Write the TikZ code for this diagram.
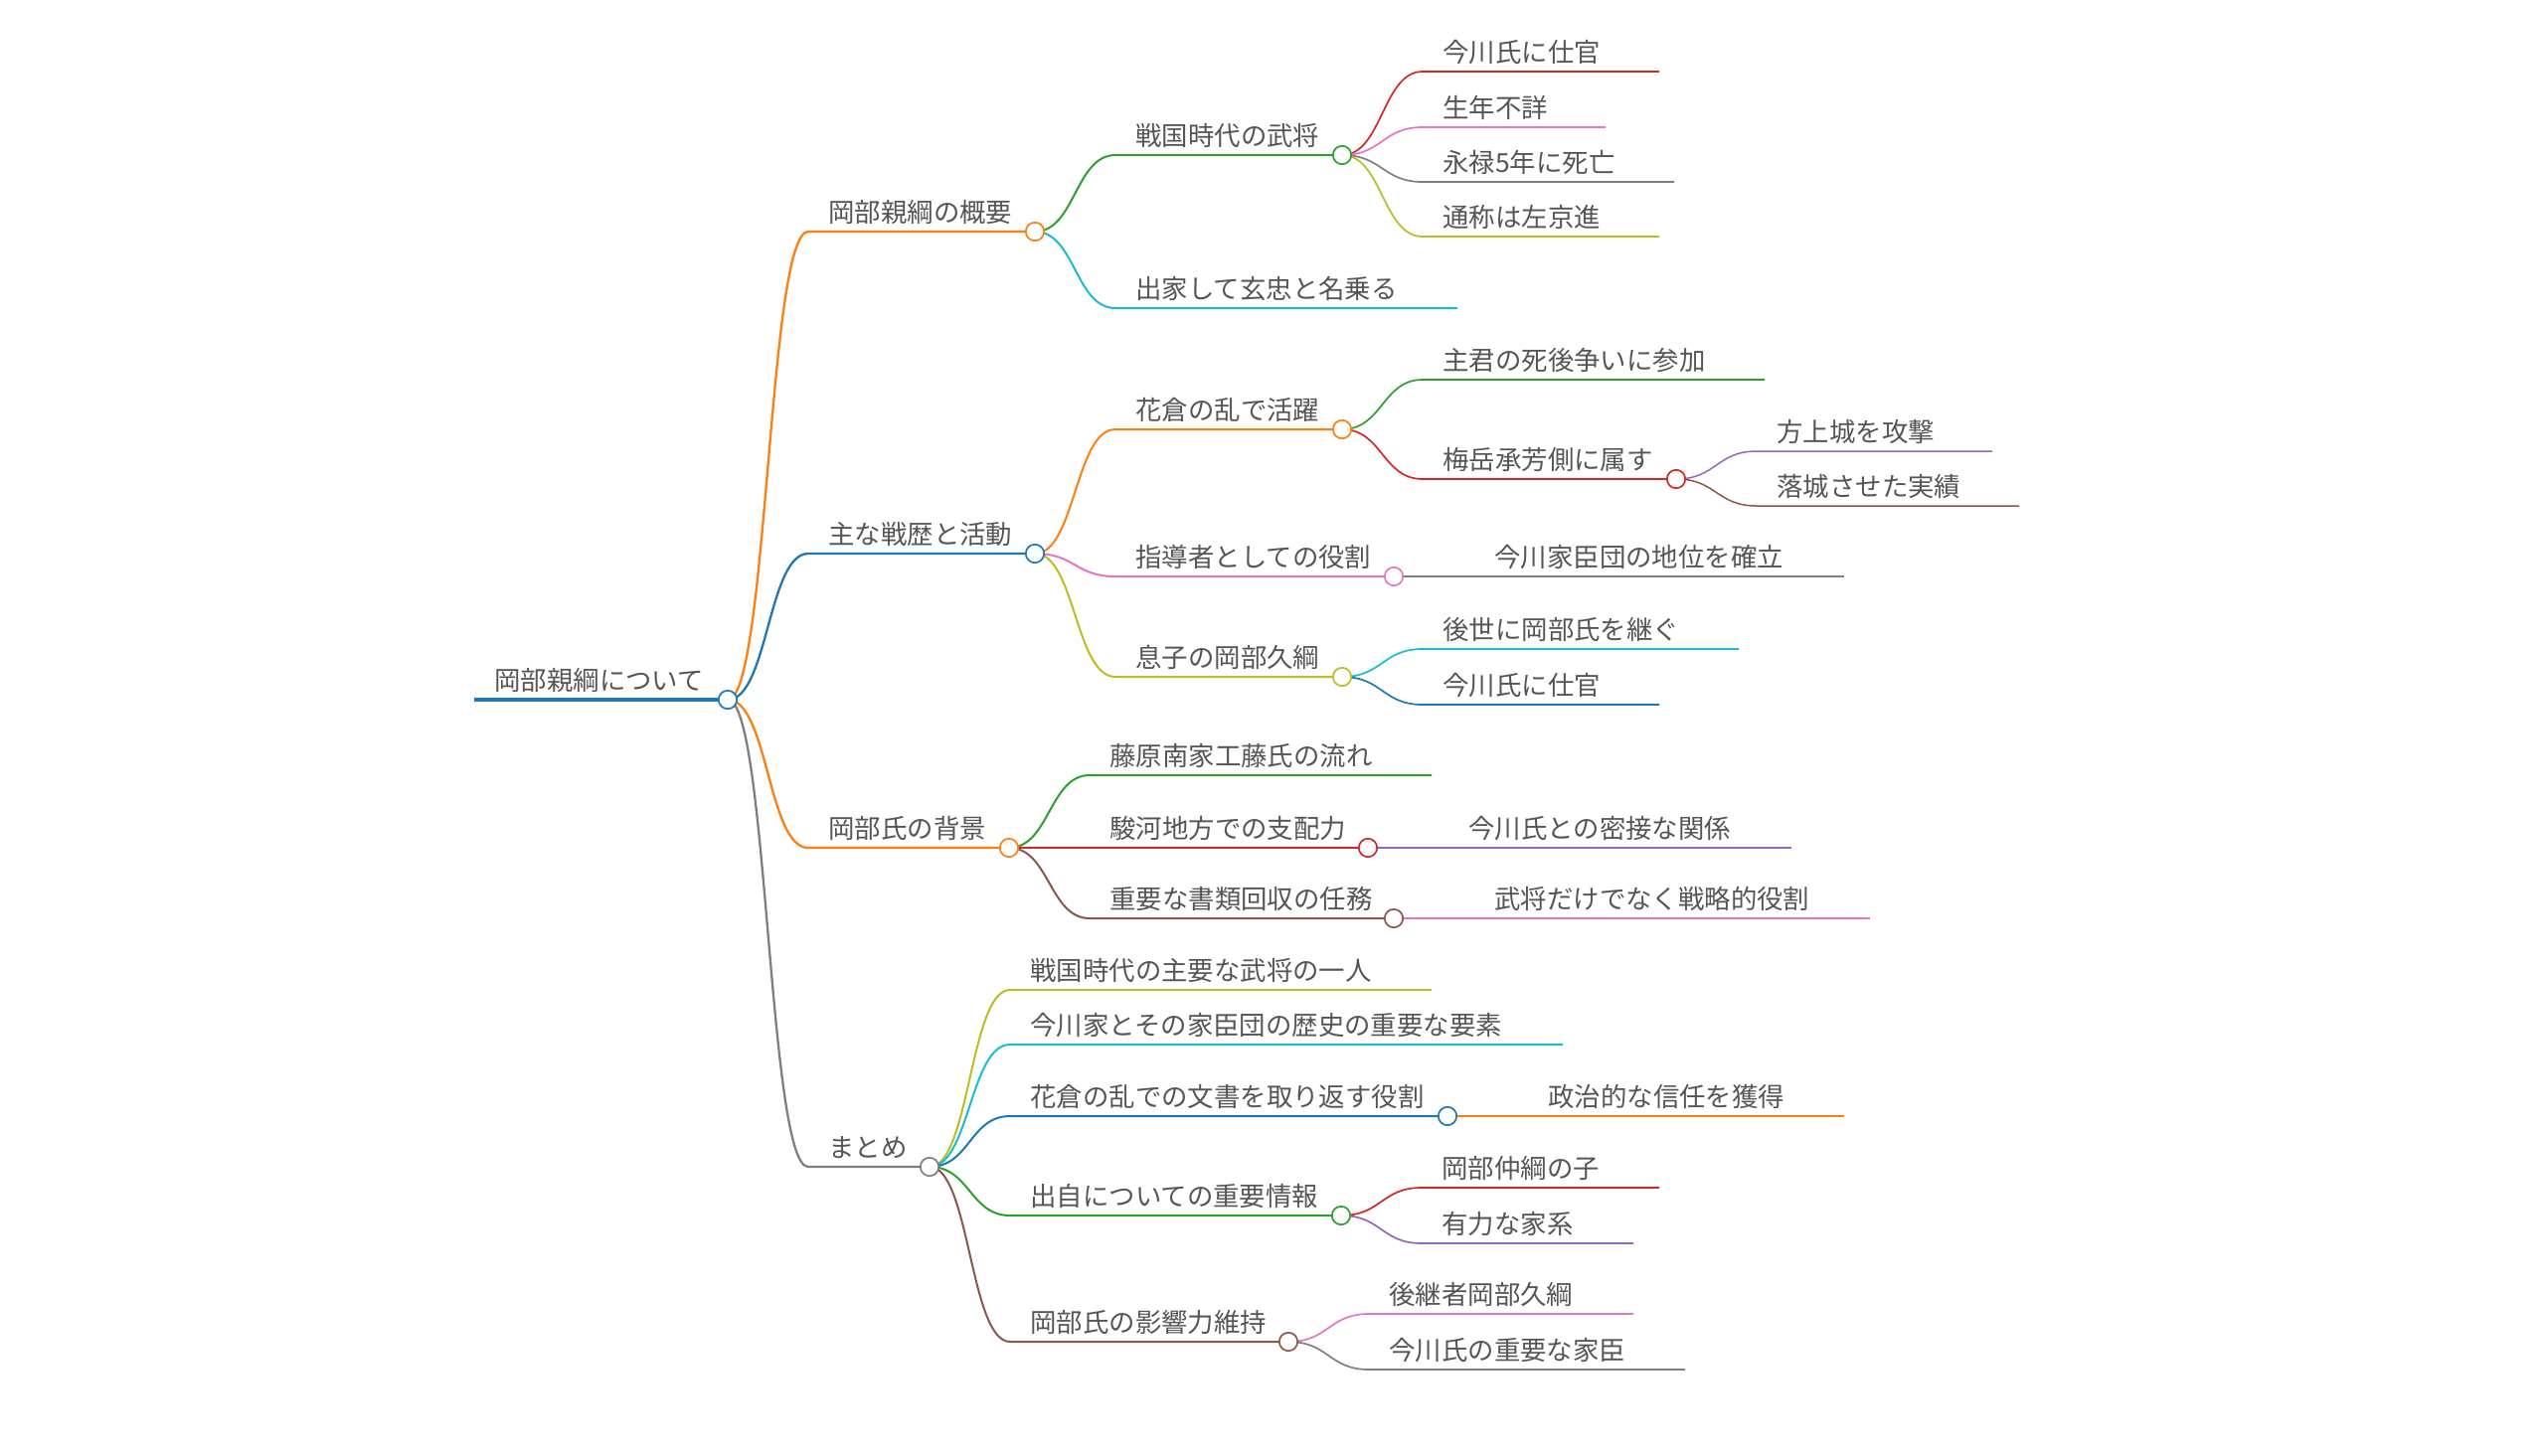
\documentclass[tikz,border=0pt]{standalone}
\usepackage{fontspec}
\setmainfont{Noto Sans CJK JP}
\newfontfamily\jpfont{Noto Sans CJK JP}
\usetikzlibrary{calc}
\pgfdeclarelayer{bg}
\pgfdeclarelayer{paper}
\pgfsetlayers{paper,bg,main}
\definecolor{mmblue}{HTML}{1F77B4}
\definecolor{mmorange}{HTML}{FF7F0E}
\definecolor{mmgreen}{HTML}{2CA02C}
\definecolor{mmred}{HTML}{D62728}
\definecolor{mmpurple}{HTML}{9467BD}
\definecolor{mmbrown}{HTML}{8C564B}
\definecolor{mmpink}{HTML}{E377C2}
\definecolor{mmgrey}{HTML}{7F7F7F}
\definecolor{mmolive}{HTML}{BCBD22}
\definecolor{mmcyan}{HTML}{17BECF}
\definecolor{txtgray}{HTML}{555555}
\tikzset{
  circ/.style={circle, draw=#1, fill=white, line width=0.85pt, minimum size=9.2pt, inner sep=0pt},
  lbl/.style={anchor=base west, inner sep=0pt, text=txtgray, font=\jpfont\fontsize{13.2pt}{15pt}\selectfont},
}
% internal node: id, parent, colour, width, xstart, y, xcircle, text
\newcommand{\mmmid}[8]{%
  \coordinate (#1-s) at (#5,#6);
  \node[circ=#3] (#1) at (#7,#6) {};
  \node[lbl] (#1-t) at (#5+20,#6-10) {#8};
  \begin{pgfonlayer}{bg}
  \draw[#3, line width=#4] (#2.center) .. controls ($(#2.center)+(40.5,0)$) and ($(#1-s)+(-40.5,0)$) .. (#1-s) -- (#1.center);
  \end{pgfonlayer}}
% leaf node: id, parent, colour, width, xstart, y, xend, text
\newcommand{\mmleaf}[8]{%
  \coordinate (#1-s) at (#5,#6);
  \coordinate (#1-e) at (#7,#6);
  \node[lbl] (#1-t) at (#5+20,#6-10) {#8};
  \begin{pgfonlayer}{bg}
  \draw[#3, line width=#4] (#2.center) .. controls ($(#2.center)+(40.5,0)$) and ($(#1-s)+(-40.5,0)$) .. (#1-s) -- (#1-e);
  \end{pgfonlayer}}
\begin{document}
\begin{tikzpicture}[x=0.5pt, y=-0.5pt, line cap=round]
\begin{pgfonlayer}{paper}
\fill[white] (0,0) rectangle (2560,1464);
\end{pgfonlayer}
\useasboundingbox (0,0) rectangle (2560,1464);
% root
\coordinate (R-s) at (477,704);
\node[circ=mmblue] (R) at (732,704) {};
\node[lbl] (R-t) at (497,694) {岡部親綱について};
\begin{pgfonlayer}{bg}
\draw[mmblue, line width=1.65pt] (R-s) -- (R.center);
\end{pgfonlayer}
% level 1
\mmmid{A}{R}{mmorange}{1.15pt}{813}{233}{1041}{岡部親綱の概要}
\mmmid{B}{R}{mmblue}{1.15pt}{813}{557}{1041}{主な戦歴と活動}
\mmmid{C}{R}{mmorange}{1.15pt}{813}{853}{1015}{岡部氏の背景}
\mmmid{D}{R}{mmgrey}{1.15pt}{813}{1174}{935}{まとめ}
% under A
\mmmid{A1}{A}{mmgreen}{1pt}{1122}{156}{1350}{戦国時代の武将}
\mmleaf{A2}{A}{mmcyan}{1pt}{1122}{310}{1466}{出家して玄忠と名乗る}
\mmleaf{A1a}{A1}{mmred}{0.85pt}{1431}{72}{1669}{今川氏に仕官}
\mmleaf{A1b}{A1}{mmpink}{0.85pt}{1431}{128}{1615}{生年不詳}
\mmleaf{A1c}{A1}{mmgrey}{0.85pt}{1431}{183}{1684}{永禄5年に死亡}
\mmleaf{A1d}{A1}{mmolive}{0.85pt}{1431}{238}{1669}{通称は左京進}
% under B
\mmmid{B1}{B}{mmorange}{1pt}{1122}{432}{1350}{花倉の乱で活躍}
\mmmid{B2}{B}{mmpink}{1pt}{1122}{580}{1402}{指導者としての役割}
\mmmid{B3}{B}{mmolive}{1pt}{1122}{681}{1350}{息子の岡部久綱}
\mmleaf{B1a}{B1}{mmgreen}{0.85pt}{1431}{382}{1775}{主君の死後争いに参加}
\mmmid{B1b}{B1}{mmred}{0.85pt}{1431}{482}{1686}{梅岳承芳側に属す}
\mmleaf{B1b1}{B1b}{mmpurple}{0.75pt}{1767}{454}{2004}{方上城を攻撃}
\mmleaf{B1b2}{B1b}{mmbrown}{0.75pt}{1767}{509}{2031}{落城させた実績}
\mmleaf{B2a}{B2}{mmgrey}{0.85pt}{1483}{580}{1855}{今川家臣団の地位を確立}
\mmleaf{B3a}{B3}{mmcyan}{0.85pt}{1431}{653}{1749}{後世に岡部氏を継ぐ}
\mmleaf{B3b}{B3}{mmblue}{0.85pt}{1431}{709}{1669}{今川氏に仕官}
% under C
\mmleaf{C1}{C}{mmgreen}{1pt}{1096}{780}{1440}{藤原南家工藤氏の流れ}
\mmmid{C2}{C}{mmred}{1pt}{1096}{853}{1376}{駿河地方での支配力}
\mmmid{C3}{C}{mmbrown}{1pt}{1096}{924}{1402}{重要な書類回収の任務}
\mmleaf{C2a}{C2}{mmpurple}{0.85pt}{1457}{853}{1802}{今川氏との密接な関係}
\mmleaf{C3a}{C3}{mmpink}{0.85pt}{1483}{924}{1881}{武将だけでなく戦略的役割}
% under D
\mmleaf{D1}{D}{mmolive}{1pt}{1016}{996}{1440}{戦国時代の主要な武将の一人}
\mmleaf{D2}{D}{mmcyan}{1pt}{1016}{1051}{1572}{今川家とその家臣団の歴史の重要な要素}
\mmmid{D3}{D}{mmblue}{1pt}{1016}{1123}{1456}{花倉の乱での文書を取り返す役割}
\mmmid{D4}{D}{mmgreen}{1pt}{1016}{1223}{1349}{出自についての重要情報}
\mmmid{D5}{D}{mmbrown}{1pt}{1016}{1350}{1296}{岡部氏の影響力維持}
\mmleaf{D3a}{D3}{mmorange}{0.85pt}{1537}{1123}{1855}{政治的な信任を獲得}
\mmleaf{D4a}{D4}{mmred}{0.85pt}{1430}{1195}{1669}{岡部仲綱の子}
\mmleaf{D4b}{D4}{mmpurple}{0.85pt}{1430}{1251}{1643}{有力な家系}
\mmleaf{D5a}{D5}{mmpink}{0.85pt}{1377}{1322}{1643}{後継者岡部久綱}
\mmleaf{D5b}{D5}{mmgrey}{0.85pt}{1377}{1378}{1695}{今川氏の重要な家臣}
\end{tikzpicture}
\end{document}
